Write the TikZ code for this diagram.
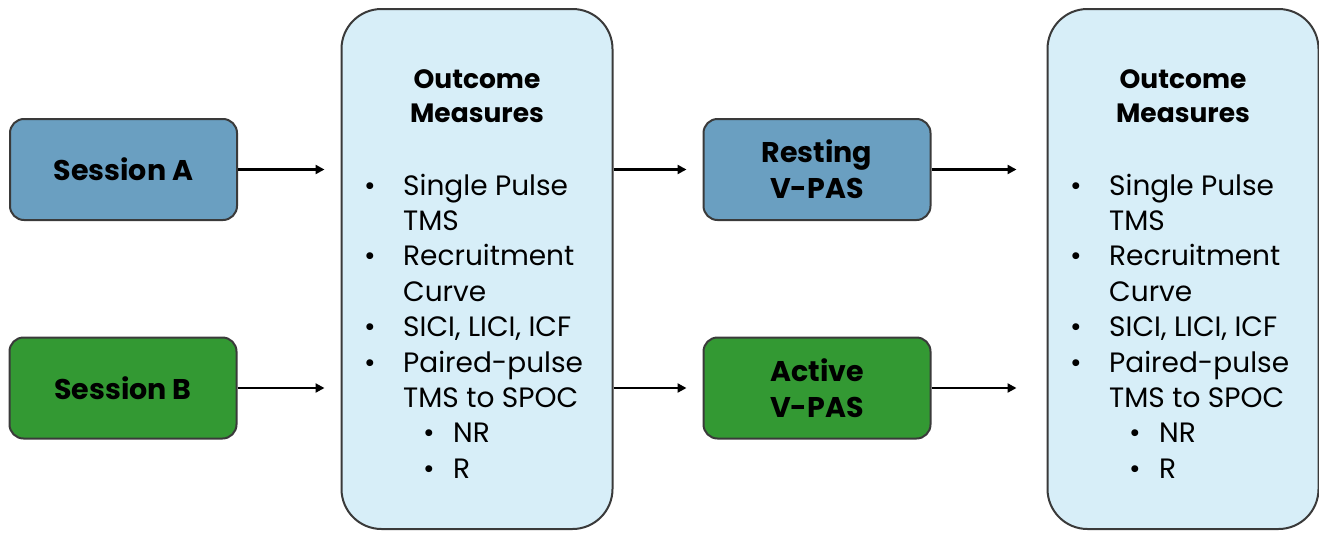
\documentclass[tikz,border=0pt]{standalone}
\usepackage{fontspec}
\setmainfont{Poppins}
\usetikzlibrary{arrows.meta}
\definecolor{sessblue}{HTML}{6A9FC1}
\definecolor{sessgreen}{HTML}{339933}
\definecolor{omfill}{HTML}{D7EEF8}
\definecolor{edgegray}{HTML}{3A3A3A}
\tikzset{
  smallbox/.style={draw=edgegray, line width=2pt, rounded corners=14pt, minimum width=227pt, minimum height=101pt, inner sep=0pt, align=center, font=\fontsize{28.5}{36}\selectfont\bfseries},
  bigbox/.style={draw=edgegray, line width=2pt, rounded corners=40pt, fill=omfill, minimum width=271pt, minimum height=520pt, inner sep=0pt},
  conn/.style={line width=2.3pt, -{Triangle[length=9pt,width=9pt]}},
  head/.style={anchor=base, font=\fontsize{26.5}{30}\selectfont\bfseries, inner sep=0pt},
  item/.style={anchor=base west, font=\fontsize{28}{30}\selectfont, inner sep=0pt},
}
\begin{document}
\begin{tikzpicture}[x=1pt,y=-1pt]
\useasboundingbox (0,0) rectangle (1319,533);
% boxes
\node[smallbox, fill=sessblue] (sa) at (123.5,169.5) {Session A};
\node[smallbox, fill=sessgreen] (sb) at (123,388) {Session B};
\node[bigbox] (om1) at (477,269) {};
\node[smallbox, fill=sessblue] (rest) at (817,169.5) {Resting\\V-PAS};
\node[smallbox, fill=sessgreen] (act) at (817,388) {Active\\V-PAS};
\node[bigbox] (om2) at (1183,269) {};
% texts in outcome boxes
\foreach \dx/\nm in {0/a,706/b}{
  \node[head] (h1\nm) at (477+\dx,88) {Outcome};
  \node[head] (h2\nm) at (477+\dx,122) {Measures};
  \foreach \y/\bul/\t [count=\i] in {
    195/1/Single Pulse,
    230.4/0/TMS,
    265.8/1/Recruitment,
    301.2/0/Curve,
    336.6/1/{SICI, LICI, ICF},
    372/1/Paired-pulse,
    407.4/0/TMS to SPOC}{
    \ifnum\bul=1 \node[item] (b\i\nm) at (364+\dx,\y) {•};\fi
    \node[item] (t\i\nm) at (403+\dx,\y) {\t};
  }
  \foreach \y/\t [count=\i] in {442.8/NR,478.2/R}{
    \node[item] (sb\i\nm) at (423+\dx,\y) {•};
    \node[item] (st\i\nm) at (453+\dx,\y) {\t};
  }
}
% connectors
\draw[conn, shorten >=16pt] (sa) -- (sa -| om1.west);
\draw[conn, shorten >=16pt] (sb) -- (sb -| om1.west);
\draw[conn, shorten >=16pt] (sa -| om1.east) -- (rest);
\draw[conn, shorten >=16pt] (sb -| om1.east) -- (act);
\draw[conn, shorten >=30pt] (rest) -- (rest -| om2.west);
\draw[conn, shorten >=30pt] (act) -- (act -| om2.west);
\end{tikzpicture}
\end{document}
